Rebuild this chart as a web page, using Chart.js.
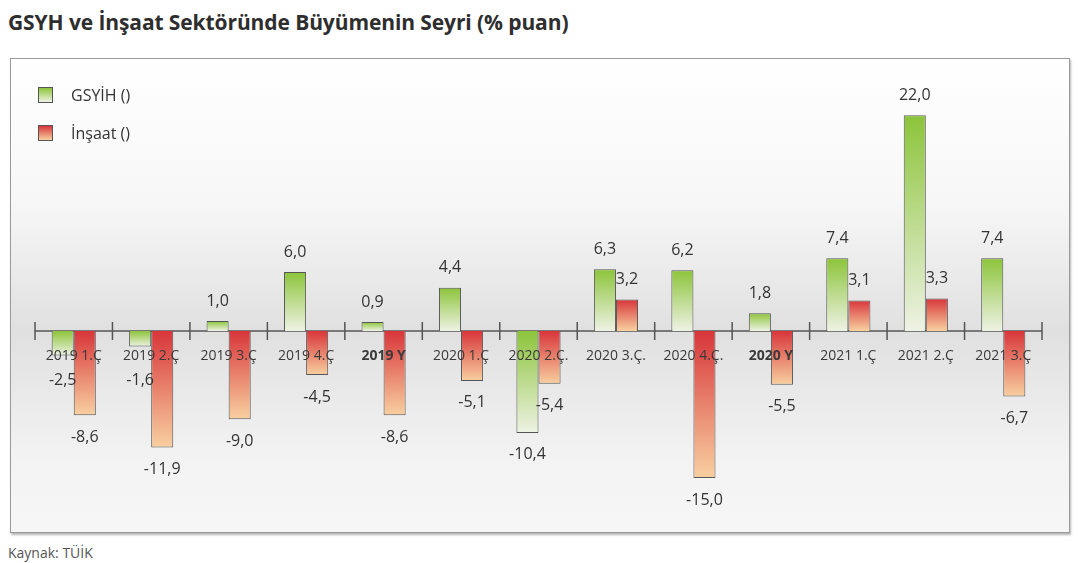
<!DOCTYPE html>
<html lang="tr">
<head>
<meta charset="utf-8">
<script src="https://cdn.jsdelivr.net/npm/chart.js@4"></script>
<style>
    body { margin: 0; background: #fff; font-family: "Open Sans", sans-serif; width: 1078px; height: 563px; position: relative; overflow: hidden; }
    .title { position: absolute; left: 8px; top: 8px; font-size: 21px; font-weight: bold; color: #2e2e2e; letter-spacing: -0.1px; }
    .box { position: absolute; left: 10px; top: 58px; width: 1060px; height: 475px; border: 1px solid #9a9a9a; box-shadow: 1px 2px 2px #b5b5b5; box-sizing: border-box; }
    .legend { position: absolute; left: 27px; top: 17px; font-size: 16px; color: #333; }
    .legend div { display: flex; align-items: center; height: 38px; }
    .legend span.sw { width: 15px; height: 16px; border: 1px solid #555; margin-right: 18px; box-sizing: border-box; }
    .source { position: absolute; left: 8px; top: 543px; font-size: 14px; color: #555; }
</style>
</head>
<body>
<div class="title">GSYH ve İnşaat Sektöründe Büyümenin Seyri (% puan)</div>
<div class="box">
    <canvas id="growthChart" width="1058" height="473"></canvas>
    <div class="legend">
        <div><span class="sw" style="background: linear-gradient(#8cc43a, #eef2e4)"></span>GSYİH ()</div>
        <div><span class="sw" style="background: linear-gradient(#d8353a, #f8d0a0)"></span>İnşaat ()</div>
    </div>
</div>
<div class="source">Kaynak: TÜİK</div>

<script>
// Categories and series (% growth)
const quarters = ['2019 1.Ç', '2019 2.Ç', '2019 3.Ç', '2019 4.Ç', '2019 Y', '2020 1.Ç', '2020 2.Ç.',
    '2020 3.Ç.', '2020 4.Ç.', '2020 Y', '2021 1.Ç', '2021 2.Ç', '2021 3.Ç'];
const gdpGrowth = [-2.5, -1.6, 1.0, 6.0, 0.9, 4.4, -10.4, 6.3, 6.2, 1.8, 7.4, 22.0, 7.4];
const constructionGrowth = [-8.6, -11.9, -9.0, -4.5, -8.6, -5.1, -5.4, 3.2, -15.0, -5.5, 3.1, 3.3, -6.7];

// Per-bar vertical gradient, strong colour at the top edge, pale at the bottom edge
function barGradient(topColor, bottomColor) {
    return (ctx) => {
        const chart = ctx.chart;
        const yScale = chart.scales.y;
        if (!chart.chartArea || !yScale || ctx.raw === undefined) return topColor;
        const v = ctx.raw;
        const top = yScale.getPixelForValue(Math.max(v, 0));
        const bottom = yScale.getPixelForValue(Math.min(v, 0));
        if (!isFinite(top) || !isFinite(bottom) || top === bottom) return topColor;
        const g = chart.ctx.createLinearGradient(0, top, 0, bottom);
        g.addColorStop(0, topColor);
        g.addColorStop(1, bottomColor);
        return g;
    };
}

const backgroundPlugin = {
    id: 'panelBackground',
    beforeDraw(chart) {
        const { ctx, width, height } = chart;
        const zeroY = chart.scales.y.getPixelForValue(0);
        const g = ctx.createLinearGradient(0, 0, 0, height);
        g.addColorStop(0, '#ffffff');
        g.addColorStop(0.3, '#f7f7f7');
        g.addColorStop(zeroY / height, '#e0e0e0');
        g.addColorStop(0.85, '#f3f3f3');
        g.addColorStop(1, '#f6f6f6');
        ctx.save();
        ctx.fillStyle = g;
        ctx.fillRect(0, 0, width, height);
        ctx.restore();
    }
};

const axisPlugin = {
    id: 'zeroAxis',
    beforeDatasetsDraw(chart) {
        const { ctx } = chart;
        const x = chart.scales.x;
        const zeroY = chart.scales.y.getPixelForValue(0);
        const step = x.getPixelForValue(1) - x.getPixelForValue(0);
        ctx.save();
        ctx.strokeStyle = '#555';
        ctx.lineWidth = 1.5;
        ctx.beginPath();
        ctx.moveTo(x.left, zeroY);
        ctx.lineTo(x.right, zeroY);
        for (let i = 0; i <= quarters.length; i++) {
            const px = x.getPixelForValue(0) - step / 2 + i * step;
            ctx.moveTo(px, zeroY - 9);
            ctx.lineTo(px, zeroY + 9);
        }
        ctx.stroke();
        ctx.restore();
    }
};

const valueLabelPlugin = {
    id: 'valueLabels',
    afterDatasetsDraw(chart) {
        const { ctx } = chart;
        const zeroY = chart.scales.y.getPixelForValue(0);
        ctx.save();
        ctx.font = '16px "Open Sans"';
        ctx.fillStyle = '#333';
        ctx.textAlign = 'center';
        ctx.textBaseline = 'middle';
        chart.data.datasets.forEach((ds, di) => {
            chart.getDatasetMeta(di).data.forEach((bar, i) => {
                const v = ds.data[i];
                const text = v.toFixed(1).replace('.', ',');
                const y = v >= 0 ? bar.y - 20 : Math.max(bar.y + 22, zeroY + 50);
                ctx.fillText(text, bar.x, y);
            });
        });
        ctx.restore();
    }
};

new Chart(document.getElementById('growthChart'), {
    type: 'bar',
    data: {
        labels: quarters,
        datasets: [{
            label: 'GSYİH ()',
            data: gdpGrowth,
            backgroundColor: barGradient('#8cc43a', '#eef2e4'),
            borderColor: '#555',
            borderWidth: 1
        }, {
            label: 'İnşaat ()',
            data: constructionGrowth,
            backgroundColor: barGradient('#d8353a', '#f8d0a0'),
            borderColor: '#555',
            borderWidth: 1
        }]
    },
    options: {
        responsive: false,
        animation: false,
        layout: { padding: { left: 24, right: 27, top: 17, bottom: 5 } },
        categoryPercentage: 0.57,
        barPercentage: 1.0,
        plugins: {
            legend: { display: false },
            tooltip: { enabled: false }
        },
        scales: {
            y: {
                display: false,
                min: -20,
                max: 26
            },
            x: {
                position: { y: 0 },
                grid: { display: false },
                border: { display: false },
                ticks: {
                    z: 1,
                    color: '#3a3a3a',
                    padding: 9,
                    maxRotation: 0,
                    autoSkip: false,
                    font: (ctx) => ({
                        family: '"Open Sans"',
                        size: 14,
                        weight: quarters[ctx.index] && quarters[ctx.index].endsWith('Y') ? 'bold' : 'normal'
                    })
                }
            }
        }
    },
    plugins: [backgroundPlugin, axisPlugin, valueLabelPlugin]
});
</script>
</body>
</html>
